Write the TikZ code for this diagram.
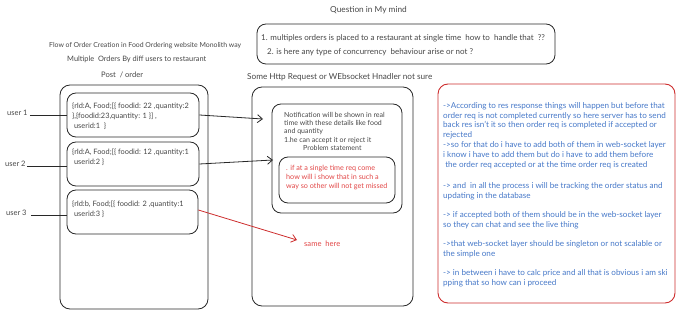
\documentclass[tikz,border=0pt]{standalone}
\usepackage{fontspec}
\setmainfont{Lato}
\usetikzlibrary{arrows.meta}
\definecolor{ink}{RGB}{40,40,40}
\definecolor{txt}{RGB}{70,70,70}
\definecolor{redtxt}{RGB}{225,70,70}
\definecolor{redline}{RGB}{205,45,45}
\definecolor{bluetxt}{RGB}{70,120,200}
\tikzset{
  box/.style={draw=ink, line width=0.8pt, rounded corners=9pt, inner sep=0pt},
  redbox/.style={draw=redline, line width=0.9pt, rounded corners=10pt, inner sep=0pt},
  lbl/.style={text=txt, inner sep=0pt, anchor=base west},
  para/.style={inner sep=0pt, anchor=north west, align=left},
  conn/.style={draw=ink, line width=0.8pt},
  arr/.style={conn, -{Straight Barb[length=5pt,width=8pt]}},
  redarr/.style={draw=redline, line width=0.8pt, -{Straight Barb[length=5pt,width=8pt]}},
}
\begin{document}
\begin{tikzpicture}[x=1pt,y=-1pt]
\useasboundingbox (0,0) rectangle (680,315);

% titles
\node[lbl, font=\fontsize{8.3}{9}\selectfont] (qt) at (330,12.5) {Question in My mind};
\node[lbl, font=\fontsize{6.9}{8}\selectfont] (t1) at (49,48) {Flow of Order Creation in Food Ordering website Monolith way};
\node[lbl, font=\fontsize{7.4}{9}\selectfont] (t2) at (67,61.5) {Multiple\ \ Orders By diff users to restaurant};
\node[lbl, font=\fontsize{7.6}{9}\selectfont] (t3) at (101,77.5) {Post\ \ / order};
\node[lbl, font=\fontsize{8.2}{9}\selectfont] (t4) at (247,79.5) {Some Http Request or WEbsocket Hnadler not sure};

% question box
\node[box, minimum width=298pt, minimum height=40pt] (qbox) at (406,44) {};
\node[lbl, font=\fontsize{8}{9}\selectfont] (q1) at (261,40.5) {1. multiples orders is placed to a restaurant at single time\ \ how to\ \ handle that\ \ ??};
\node[lbl, font=\fontsize{8}{9}\selectfont] (q2) at (267,54.5) {2. is here any type of concurrency\ \ behaviour arise or not ?};

% left column
\node[box, rounded corners=10pt, minimum width=148pt, minimum height=224pt] (lout) at (134,197) {};
\node[box, minimum width=132pt, minimum height=44pt] (b1) at (133,115) {};
\node[box, minimum width=132pt, minimum height=44pt] (b2) at (133,164) {};
\node[box, minimum width=131pt, minimum height=44pt] (b3) at (132.5,212) {};
\node[para, text=txt, font=\fontsize{7.4}{10}\selectfont] (b1t) at (72,103) {\{rId:A, Food;[\{ foodid: 22 ,quantity:2\\ \},\{foodid:23,quantity: 1 \}] ,\\ \ userid:1\ \ \}};
\node[para, text=txt, font=\fontsize{7.4}{10}\selectfont] (b2t) at (72,149) {\{rId:A, Food;[\{ foodid: 12 ,quantity:1\\ \ userid:2 \}};
\node[para, text=txt, font=\fontsize{7.4}{9.5}\selectfont] (b3t) at (72,201) {\{rId:b, Food;[\{ foodid: 2 ,quantity:1\\ \ userid:3 \}};

% users
\node[lbl, font=\fontsize{7.5}{9}\selectfont] (u1) at (7,115.5) {user 1};
\node[lbl, font=\fontsize{7.5}{9}\selectfont] (u2) at (5,166.5) {user 2};
\node[lbl, font=\fontsize{7.5}{9}\selectfont] (u3) at (6,215.5) {user 3};
\draw[conn] ([yshift=-2.5pt]u1.east) ++(2pt,0) -- ([yshift=-2.5pt]u1.east -| b1.west);
\draw[conn] ([yshift=-2.5pt]u2.east) ++(1pt,0) -- ([yshift=-2.5pt]u2.east -| b2.west);
\draw[conn] ([yshift=-2.5pt]u3.east) ++(4pt,0) -- ([yshift=-2.5pt]u3.east -| b3.west);

% middle column
\node[box, rounded corners=10pt, minimum width=161pt, minimum height=219pt] (mout) at (332.5,196.5) {};
\node[box, minimum width=130pt, minimum height=109pt] (min) at (337,158.5) {};
\node[box, minimum width=116pt, minimum height=46pt] (rbx) at (337,180) {};
\node[para, text=txt, font=\fontsize{7}{8.3}\selectfont] (nt) at (284,112) {Notification will be shown in real\\time with these details like food\\and quantity\\1.he can accept it or reject it\\\hspace*{19pt}Problem statement};
\node[para, text=redtxt, font=\fontsize{7.2}{9}\selectfont] (rt) at (286,164.5) {. if at a single time req come\\how will i show that in such a\\way so other will not get missed};

\coordinate (a1) at (263,119);
\coordinate (a2) at (273,160);
\coordinate (a3) at (297,240);
\draw[arr] (b1.east) -- (a1);
\draw[arr] (b2.east) -- (a2);
\draw[redarr] ([yshift=2pt]b3.east) -- (a3);
\node[lbl, text=redtxt, font=\fontsize{7.6}{9}\selectfont] (same) at (304,246.5) {same\ \ here};

% right red box
\node[redbox, minimum width=237pt, minimum height=219pt] (rbox) at (556.5,193.5) {};
\node[para, text=bluetxt, font=\fontsize{8.1}{9.9}\selectfont] (p1) at (443,102) {->According to res response things will happen but before that\\order req is not completed currently so here server has to send\\back res isn't it so then order req is completed if accepted or\\rejected\\->so for that do i have to add both of them in web-socket layer\\i know i have to add them but do i have to add them before\\\ the order req accepted or at the time order req is created};
\node[para, text=bluetxt, font=\fontsize{8.1}{9.9}\selectfont] (p2) at (443,182) {-> and\ \ in all the process i will be tracking the order status and\\updating in the database};
\node[para, text=bluetxt, font=\fontsize{8.1}{9.9}\selectfont] (p3) at (443,211) {-> if accepted both of them should be in the web-socket layer\\so they can chat and see the live thing};
\node[para, text=bluetxt, font=\fontsize{8.1}{9.9}\selectfont] (p4) at (443,240) {->that web-socket layer should be singleton or not scalable or\\the simple one};
\node[para, text=bluetxt, font=\fontsize{8.1}{9.9}\selectfont] (p5) at (443,269) {-> in between i have to calc price and all that is obvious i am ski\\pping that so how can i proceed};
\end{tikzpicture}
\end{document}
